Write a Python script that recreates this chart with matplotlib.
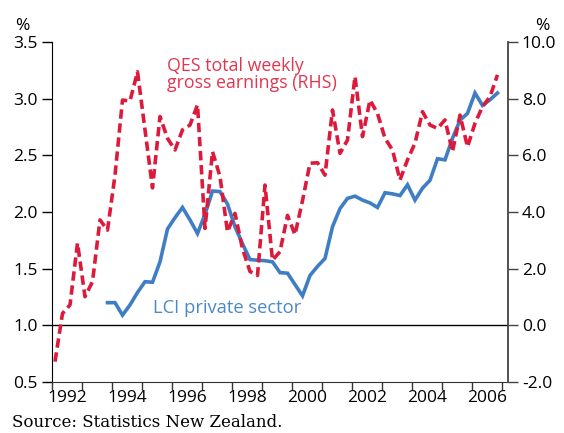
import numpy as np
import matplotlib.pyplot as plt

plt.rcParams['font.family'] = ['Open Sans', 'DejaVu Sans']

# quarterly data
qes_start = 1992.1
qes = [-1.28, 0.42, 0.72, 2.90, 1.01, 1.54, 3.72, 3.36,
       5.30, 7.95, 7.92, 8.95, 6.90, 4.85, 7.37, 6.60,
       6.19, 6.90, 7.07, 7.78, 3.42, 6.13, 5.25, 3.30,
       3.95, 2.70, 1.90, 1.76, 4.95, 2.30, 2.60, 3.88,
       3.20, 4.40, 5.72, 5.74, 5.30, 7.60, 6.07, 6.54,
       8.78, 6.66, 7.95, 7.48, 6.60, 6.19, 5.13, 5.84,
       6.43, 7.54, 7.07, 6.95, 7.25, 6.13, 7.42, 6.30,
       7.13, 7.72, 8.07, 8.84]

lci_start = 1993.85
lci = [1.20, 1.20, 1.09, 1.18, 1.29, 1.385, 1.38, 1.56,
       1.85, 1.95, 2.04, 1.93, 1.81, 1.98, 2.185, 2.18,
       2.07, 1.87, 1.72, 1.58, 1.575, 1.57, 1.56, 1.465,
       1.46, 1.36, 1.26, 1.44, 1.52, 1.59, 1.87, 2.03,
       2.12, 2.14, 2.105, 2.08, 2.04, 2.17, 2.16, 2.145,
       2.24, 2.105, 2.21, 2.28, 2.47, 2.46, 2.65, 2.81,
       2.87, 3.05, 2.94, 2.99, 3.05]

years = list(range(1992, 2008))
label_years = [1992, 1994, 1996, 1998, 2000, 2002, 2004, 2006]
left_ticks = [0.5, 1.0, 1.5, 2.0, 2.5, 3.0, 3.5]
right_ticks = [-2, 0, 2, 4, 6, 8, 10]

red = '#dc1a3c'
blue = '#3f7ec4'

qes_x = qes_start + 0.25 * np.arange(len(qes))
lci_x = lci_start + 0.25 * np.arange(len(lci))

fig = plt.figure(figsize=(5.64, 4.33), dpi=100)
ax = fig.add_axes([0.0922, 0.1178, 0.8085, 0.7852])
ax2 = ax.twinx()

ax.plot(lci_x, lci, color=blue, lw=2.6, solid_joinstyle='miter')
ax2.plot(qes_x, qes, color=red, lw=2.6, dashes=(2.6, 1.3))
ax.axhline(1.0, color='black', lw=1.0, zorder=1)

ax.set_xlim(1992, 2007.2)
ax.set_ylim(0.5, 3.5)
ax2.set_ylim(-2, 10)

ax.set_xticks(years)
ax.set_xticklabels([])
ax.set_xticks([y + 0.5 for y in label_years], minor=True)
ax.set_xticklabels([str(y) for y in label_years], minor=True)
ax.tick_params(axis='x', which='minor', length=0, pad=6, labelsize=12.5)
ax.tick_params(axis='x', which='major', length=6, width=1, color='#333333')

ax.set_yticks(left_ticks)
ax.set_yticklabels([f'{v:.1f}' for v in left_ticks])
ax.tick_params(axis='y', length=7, width=1, labelsize=12.5, pad=3)
ax2.set_yticks(right_ticks)
ax2.set_yticklabels([f'{v:.1f}' for v in right_ticks])
ax2.tick_params(axis='y', length=7, width=1, labelsize=12.5, pad=3, color='#444444')

for a in (ax, ax2):
    a.spines['top'].set_visible(False)
ax.spines['left'].set_color('black')
ax2.spines['right'].set_color('#444444')
ax2.spines['right'].set_linewidth(1.3)
ax.spines['right'].set_visible(False)
ax.spines['bottom'].set_color('#333333')
ax2.spines['left'].set_visible(False)
ax2.spines['bottom'].set_visible(False)

fig.text(0.027, 0.94, '%', fontsize=12.5, ha='left', va='center')
fig.text(0.975, 0.94, '%', fontsize=12.5, ha='right', va='center')

fig.text(0.296, 0.828, 'QES total weekly\ngross earnings (RHS)', color='#e23550',
         fontsize=12.8, ha='left', va='center', linespacing=0.95)
fig.text(0.271, 0.288, 'LCI private sector', color='#4a88cc',
         fontsize=13.2, ha='left', va='center')

fig.text(0.022, 0.025, 'Source: Statistics New Zealand.', fontsize=12,
         family='DejaVu Serif', ha='left', va='center')

fig.savefig('out.png', dpi=100)
